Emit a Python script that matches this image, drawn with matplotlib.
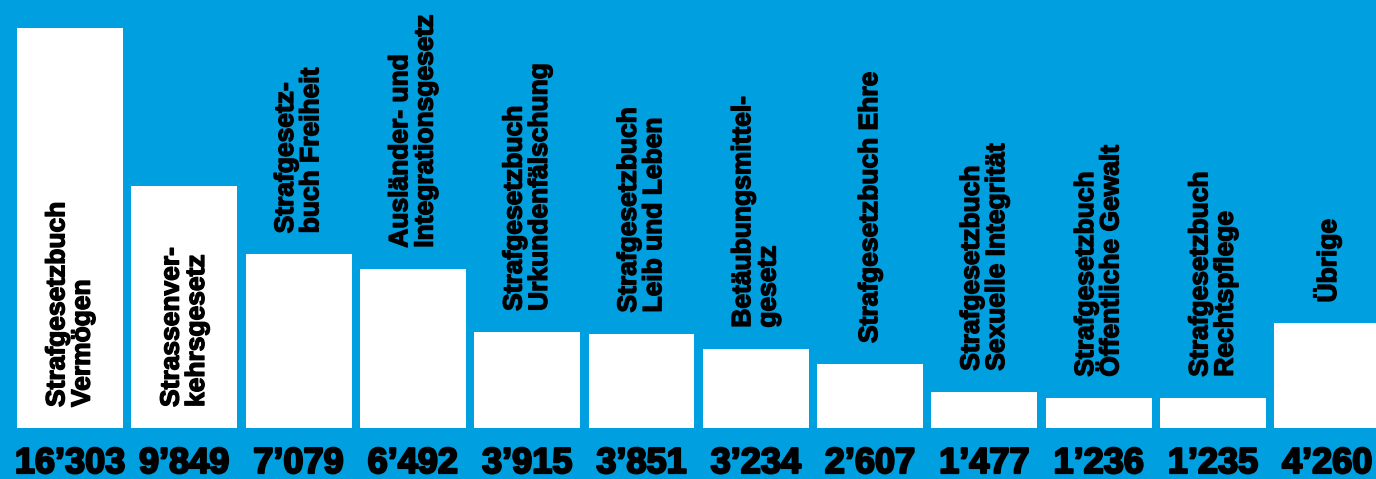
import numpy as np
import matplotlib.pyplot as plt
import matplotlib.patheffects as pe

plt.rcParams['font.family'] = ['Liberation Sans', 'DejaVu Sans']

labels = ['Strafgesetzbuch\nVermögen',
          'Strassenver-\nkehrsgesetz',
          'Strafgesetz-\nbuch Freiheit',
          'Ausländer- und\nIntegrationsgesetz',
          'Strafgesetzbuch\nUrkundenfälschung',
          'Strafgesetzbuch\nLeib und Leben',
          'Betäubungsmittel-\ngesetz',
          'Strafgesetzbuch Ehre',
          'Strafgesetzbuch\nSexuelle Integrität',
          'Strafgesetzbuch\nÖffentliche Gewalt',
          'Strafgesetzbuch\nRechtspflege',
          'Übrige']
values = [16303, 9849, 7079, 6492, 3915, 3851, 3234, 2607, 1477, 1236, 1235, 4260]
inside = [True, True] + [False]*10   # first two labels sit inside the bar

bg = '#009FE0'

fig = plt.figure(figsize=(13.76, 4.79), dpi=100, facecolor=bg)
ax = fig.add_axes([0, 0, 1, 1])
ax.set_facecolor(bg)

x = np.arange(len(values))
ax.bar(x, values, width=0.927, color='white', linewidth=0)

# 400 px per 16303
per_px = 16303/400.
ax.set_xlim(-70/114.3, (1376-70)/114.3)
ax.set_ylim(-51*per_px, (479-51)*per_px)
ax.axis('off')

heavy_lab = [pe.withStroke(linewidth=1.0, foreground='black')]
heavy_val = [pe.withStroke(linewidth=1.6, foreground='black')]

gap = 21*per_px
for xi, v, lab, ins in zip(x, values, labels, inside):
    y0 = gap if ins else v + gap
    ax.text(xi, y0, lab, rotation=90, ha='center', va='bottom',
            multialignment='left', fontsize=19, fontweight='bold',
            linespacing=1.07, color='black', path_effects=heavy_lab)
    s = f'{v:,}'.replace(',', '’')
    ax.text(xi, -45*per_px, s, ha='center', va='baseline',
            fontsize=26, fontweight='bold', color='black',
            path_effects=heavy_val)

fig.savefig('out.png', dpi=100, facecolor=bg)
